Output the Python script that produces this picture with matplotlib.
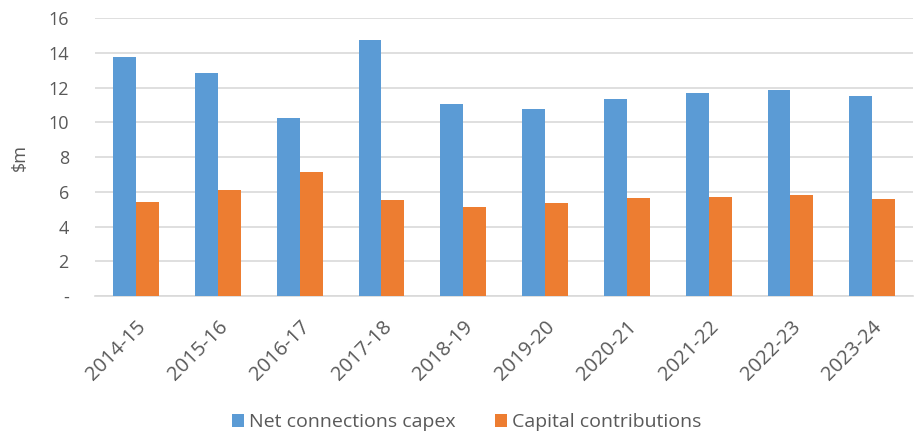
import numpy as np
import matplotlib
matplotlib.use("Agg")
import matplotlib.pyplot as plt

plt.rcParams['font.family'] = ['Open Sans', 'DejaVu Sans']

years = ["2014-15", "2015-16", "2016-17", "2017-18", "2018-19",
         "2019-20", "2020-21", "2021-22", "2022-23", "2023-24"]
net_capex = [13.75, 12.83, 10.25, 14.73, 11.06, 10.77, 11.35, 11.71, 11.85, 11.52]
contributions = [5.41, 6.11, 7.12, 5.51, 5.11, 5.36, 5.65, 5.70, 5.82, 5.57]

blue = "#5B9BD5"
orange = "#ED7D31"
txt = "#595959"

fig = plt.figure(figsize=(9.15, 4.34), dpi=100)
ax = fig.add_axes([0.104, 0.318, 0.894, 0.64])

x = np.arange(len(years))
w = 0.28
ax.bar(x - w / 2, net_capex, w, color=blue, label="Net connections capex", zorder=3)
ax.bar(x + w / 2, contributions, w, color=orange, label="Capital contributions", zorder=3)

ax.set_xlim(-0.5, len(years) - 0.5)
ax.set_ylim(0, 16)
ax.set_yticks(range(0, 17, 2))
ax.set_yticklabels(["-"] + [str(v) for v in range(2, 17, 2)])
ax.yaxis.grid(True, color="#D9D9D9", linewidth=1.2, zorder=0)
for s in ["top", "right", "left"]:
    ax.spines[s].set_visible(False)
ax.spines["bottom"].set_color("#D9D9D9")
ax.spines["bottom"].set_linewidth(1.2)
ax.tick_params(axis="both", length=0, colors=txt)
ax.tick_params(axis="y", labelsize=13, pad=19)
ax.tick_params(axis="x", labelsize=14.5, pad=15)

ax.set_xticks(x)
ax.set_xticklabels(years, rotation=45, ha="right", rotation_mode="anchor")
ax.set_ylabel("$m", color=txt, fontsize=13, labelpad=14)

fig.legend(loc="center", bbox_to_anchor=(0.51, 0.027), ncol=2, frameon=False,
           fontsize=14, labelcolor=txt, handlelength=0.65, handleheight=0.65,
           handletextpad=0.25, columnspacing=2.0)

fig.savefig("out.png", dpi=100)
